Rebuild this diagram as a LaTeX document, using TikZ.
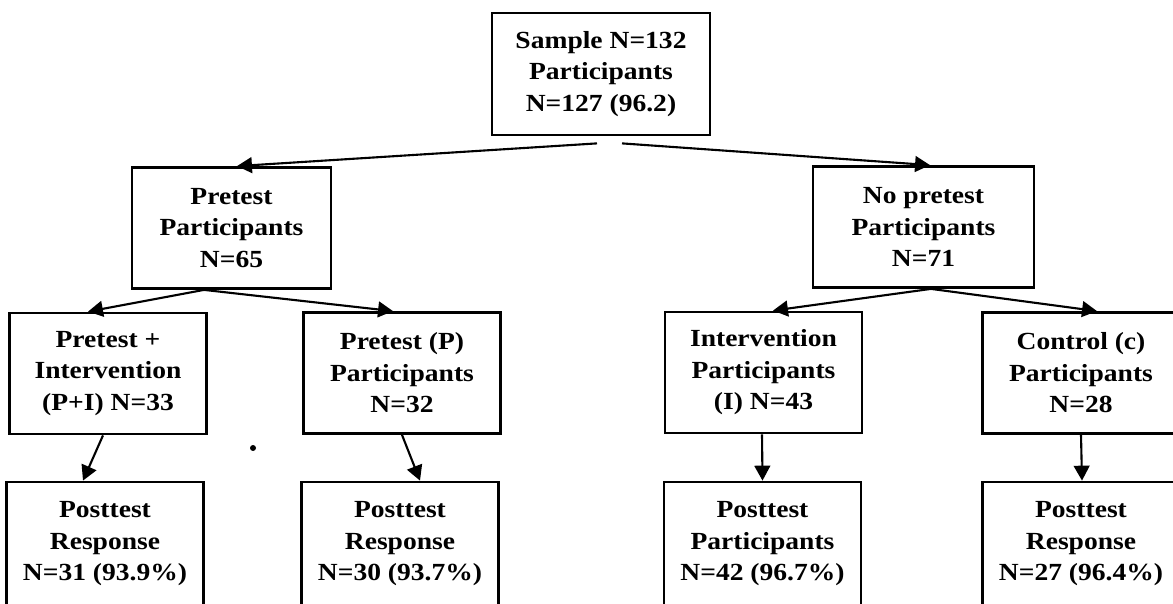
\documentclass[tikz,border=0pt]{standalone}
\usepackage{fontspec}
\setmainfont{Liberation Serif}[FakeStretch=1.12]
\usepackage{tikz}
\usetikzlibrary{arrows.meta,calc,positioning}

\begin{document}
\begin{tikzpicture}[x=0.02cm,y=-0.02cm,
    box/.style={draw,line width=1.6pt,align=center,inner sep=0pt,
      font=\bfseries\fontsize{14}{17.9}\selectfont,
      minimum width=3.94cm,minimum height=2.42cm},
    arr/.style={-{Triangle[length=8.5pt,width=9pt]},line width=1.2pt}]
  \useasboundingbox (0,0) rectangle (1173,604);
  % top of the tree
  \node[box,minimum width=4.36cm,minimum height=2.44cm] (sample) at (601,74)
    {Sample N=132\\Participants\\N=127 (96.2)};
  \node[box,minimum width=3.98cm] (pre) at (231.5,228) {Pretest\\Participants\\N=65};
  \node[box,minimum width=4.42cm] (nopre) at (923.5,227) {No pretest\\Participants\\N=71};
  % groups
  \node[box] (pi) at (108,373.5) {Pretest +\\Intervention\\(P+I) N=33};
  \node[box] (pp) at (402,373) {Pretest (P)\\Participants\\N=32};
  \node[box] (int) at (763.5,372.5) {Intervention\\Participants\\(I) N=43};
  \node[box] (ctl) at (1081,373) {Control (c)\\Participants\\N=28};
  % posttest row (cut by the page edge)
  \node[box,minimum height=2.48cm] (postpi) at (105,544) {Posttest\\Response\\N=31 (93.9\%)};
  \node[box,minimum height=2.48cm] (postpp) at (400,544) {Posttest\\Response\\N=30 (93.7\%)};
  \node[box,minimum height=2.48cm] (postint) at (762.5,544) {Posttest\\Participants\\N=42 (96.7\%)};
  \node[box,minimum height=2.48cm] (postctl) at (1081,544) {Posttest\\Response\\N=27 (96.4\%)};
  % connectors
  \draw[arr] ($(sample.south)+(-4,7)$) -- ($(pre.north)+(5.5,0)$);
  \draw[arr] ($(sample.south)+(21,7)$) -- ($(nopre.north)+(6.5,0)$);
  \draw[arr] ($(pre.south)+(-27.5,0)$) -- ($(pi.north)+(-20,0)$);
  \draw[arr] ($(pre.south)+(-27.5,0)$) -- ($(pp.north)+(-9,0)$);
  \draw[arr] ($(nopre.south)+(7.5,0)$) -- ($(int.north)+(9.5,0)$);
  \draw[arr] ($(nopre.south)+(7.5,0)$) -- ($(ctl.north)+(16,0)$);
  \draw[arr] ($(pi.south)+(-5,0)$) -- ($(postpi.north)+(-22,0)$);
  \draw[arr] (pp.south) -- ($(postpp.north)+(20,0)$);
  \draw[arr] ($(int.south)+(-1.5,0)$) -- (postint.north);
  \draw[arr] (ctl.south) -- ($(postctl.north)+(1,0)$);
  \fill (253,448) circle (3);
\end{tikzpicture}
\end{document}
